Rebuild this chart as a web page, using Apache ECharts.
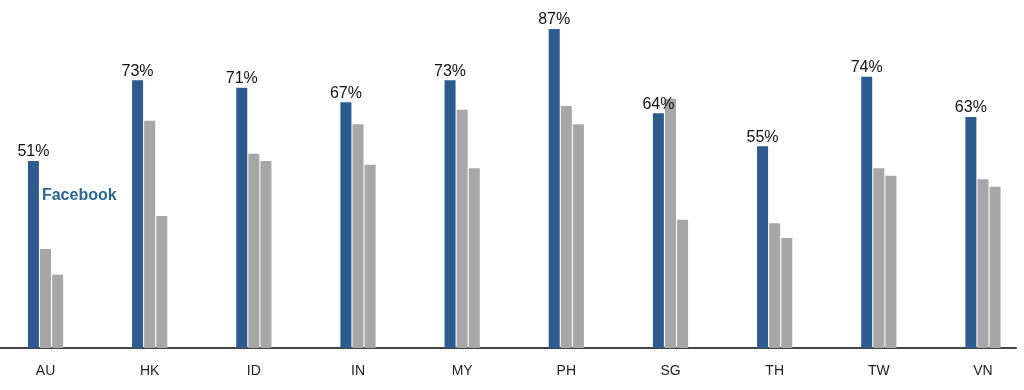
<!DOCTYPE html>
<html>
<head>
<meta charset="utf-8">
<script src="https://cdn.jsdelivr.net/npm/echarts@6/dist/echarts.min.js"></script>
<style>html,body{margin:0;padding:0;background:#fff;}#c{width:1024px;height:390px;}</style>
</head>
<body>
<div id="c"></div>
<script>
const categories = ['AU','HK','ID','IN','MY','PH','SG','TH','TW','VN'];
const facebook = [51,73,71,67,73,87,64,55,74,63];
const seriesB = [27,62,53,61,65,66,68,34,49,46];
const seriesC = [20,36,51,50,49,61,35,30,47,44];
const legendLabel = 'Facebook';

const idx = categories.map((_, i) => i);
const pairs = arr => arr.map((v, i) => [i, v]);

const chart = echarts.init(document.getElementById('c'), null, {renderer:'canvas'});
const font = 'Helvetica, "Liberation Sans", Arial, sans-serif';
chart.setOption({
  animation: false,
  backgroundColor: '#fff',
  grid: {left: 0, right: 8, top: 18, bottom: 42, containLabel: false},
  xAxis: {
    type: 'value', min: -0.437, max: 9.317,
    splitLine: {show: false},
    axisLine: {show: true, onZero: false, lineStyle: {color: '#444', width: 2}},
    axisTick: {show: false},
    axisLabel: {customValues: idx, formatter: v => categories[Math.round(v)] || '',
      color: '#222', fontSize: 14, fontFamily: font, margin: 16}
  },
  yAxis: {type: 'value', min: 0, max: 90, show: false, splitLine: {show: false}},
  series: [
    {
      type: 'bar', data: pairs(facebook), barWidth: 11, barGap: '10%',
      itemStyle: {color: '#2e5b8e'},
      label: {show: true, position: 'top', distance: 1, formatter: p => p.value[1] + '%', color: '#111', fontSize: 16, fontFamily: font},
      markPoint: {
        symbol: 'circle', symbolSize: 1, itemStyle: {color: 'rgba(0,0,0,0)'},
        z: 10,
        data: [{coord: [0, 41.7], value: legendLabel}],
        label: {show: true, position: 'right', distance: 0, offset: [8, 0], formatter: legendLabel,
          color: '#2b6691', fontWeight: 'bold', fontSize: 16, fontFamily: font}
      }
    },
    {type: 'bar', data: pairs(seriesB), barWidth: 11, barGap: '10%', itemStyle: {color: '#a7a7a7'}},
    {type: 'bar', data: pairs(seriesC), barWidth: 11, barGap: '10%', itemStyle: {color: '#a7a7a7'}}
  ]
});
</script>
</body>
</html>
